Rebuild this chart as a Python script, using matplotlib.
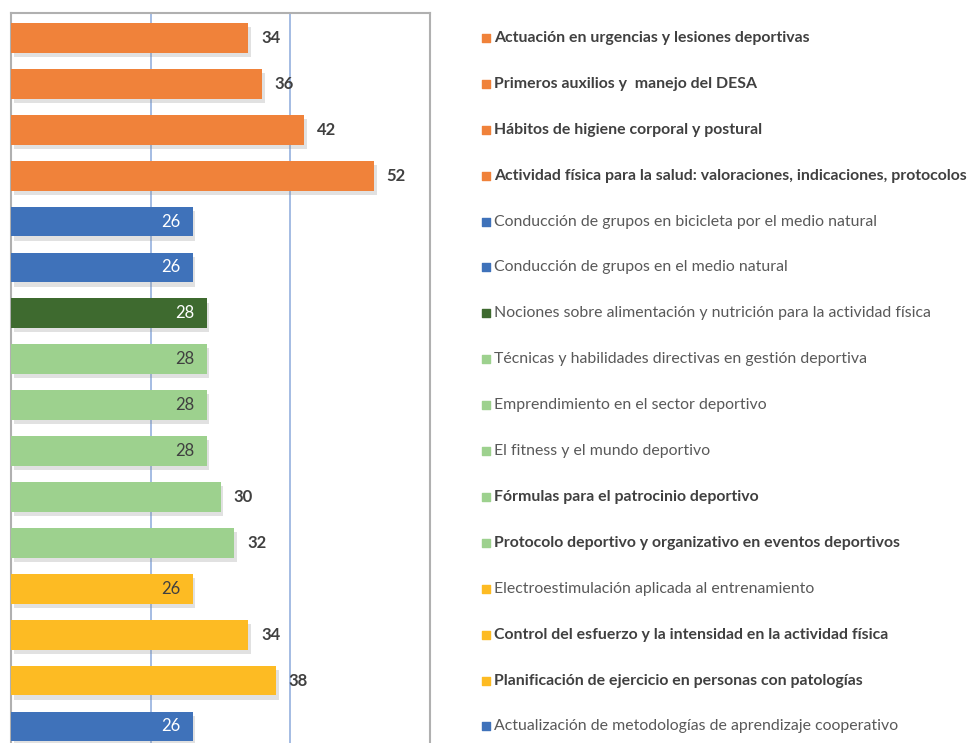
import matplotlib
matplotlib.use('Agg')
import matplotlib.pyplot as plt
import matplotlib.patheffects as pe
import matplotlib.transforms as mtransforms

# Data (top to bottom as shown)
labels = [
    'Actuación en urgencias y lesiones deportivas',
    'Primeros auxilios y  manejo del DESA',
    'Hábitos de higiene corporal y postural',
    'Actividad física para la salud: valoraciones, indicaciones, protocolos',
    'Conducción de grupos en bicicleta por el medio natural',
    'Conducción de grupos en el medio natural',
    'Nociones sobre alimentación y nutrición para la actividad física',
    'Técnicas y habilidades directivas en gestión deportiva',
    'Emprendimiento en el sector deportivo',
    'El fitness y el mundo deportivo',
    'Fórmulas para el patrocinio deportivo',
    'Protocolo deportivo y organizativo en eventos deportivos',
    'Electroestimulación aplicada al entrenamiento',
    'Control del esfuerzo y la intensidad en la actividad física',
    'Planificación de ejercicio en personas con patologías',
    'Actualización de metodologías de aprendizaje cooperativo',
]
values = [34, 36, 42, 52, 26, 26, 28, 28, 28, 28, 30, 32, 26, 34, 38, 26]
groups = ['orange'] * 4 + ['blue'] * 2 + ['dkgreen'] + ['ltgreen'] * 5 + ['yellow'] * 3 + ['blue']

palette = {
    'orange': '#F0823A',
    'blue': '#3F72BA',
    'dkgreen': '#3E6A2F',
    'ltgreen': '#9DD18E',
    'yellow': '#FDBB23',
}
inside_color = {
    'orange': '#404040',
    'blue': 'white',
    'dkgreen': 'white',
    'ltgreen': '#404040',
    'yellow': '#404040',
}

plt.rcParams['font.family'] = ['Lato', 'DejaVu Sans']

fig = plt.figure(figsize=(9.72, 7.43), dpi=100)
ax = fig.add_axes([11 / 972, -0.0114, 419 / 972, 0.994])

y = list(range(len(values)))
colors = [palette[g] for g in groups]
bars = ax.barh(y, values, height=0.65, color=colors, zorder=3)
for b in bars:
    b.set_path_effects([pe.SimplePatchShadow(offset=(2, -3), shadow_rgbFace='#8a8a8a', alpha=0.25),
                        pe.Normal()])

ax.set_xlim(0, 60)
ax.set_ylim(15.545, -0.545)
ax.set_xticks([20, 40])
ax.set_yticks([])
ax.tick_params(axis='x', length=0, labelbottom=False)
ax.grid(axis='x', color='#9DB6E0', linewidth=1.3, zorder=0)
for s in ['left', 'top', 'right']:
    ax.spines[s].set_color('#B0B0B0')
    ax.spines[s].set_linewidth(1.5)
ax.spines['bottom'].set_visible(False)

# value labels
for yi, v, g in zip(y, values, groups):
    if v >= 30:
        ax.annotate(str(v), (v, yi), xytext=(9, 0), textcoords='offset points',
                    ha='left', va='center', fontsize=12, fontweight='bold', color='#404040')
    else:
        ax.annotate(str(v), (v, yi), xytext=(-9, 0), textcoords='offset points',
                    ha='right', va='center', fontsize=12, color=inside_color[g])

# legend-like labels on the right, aligned with the bars
trans = mtransforms.blended_transform_factory(fig.transFigure, ax.transData)
for yi, lab, v, g in zip(y, labels, values, groups):
    ax.scatter([486 / 972], [yi], marker='s', s=32, color=palette[g],
               transform=trans, clip_on=False, zorder=4)
    bold = v >= 30
    ax.text(494 / 972, yi, lab, transform=trans, ha='left', va='center',
            fontsize=11.4, fontweight='bold' if bold else 'normal',
            color='#404040' if bold else '#595959', clip_on=False)

fig.savefig('out.png', dpi=100, facecolor='white')
